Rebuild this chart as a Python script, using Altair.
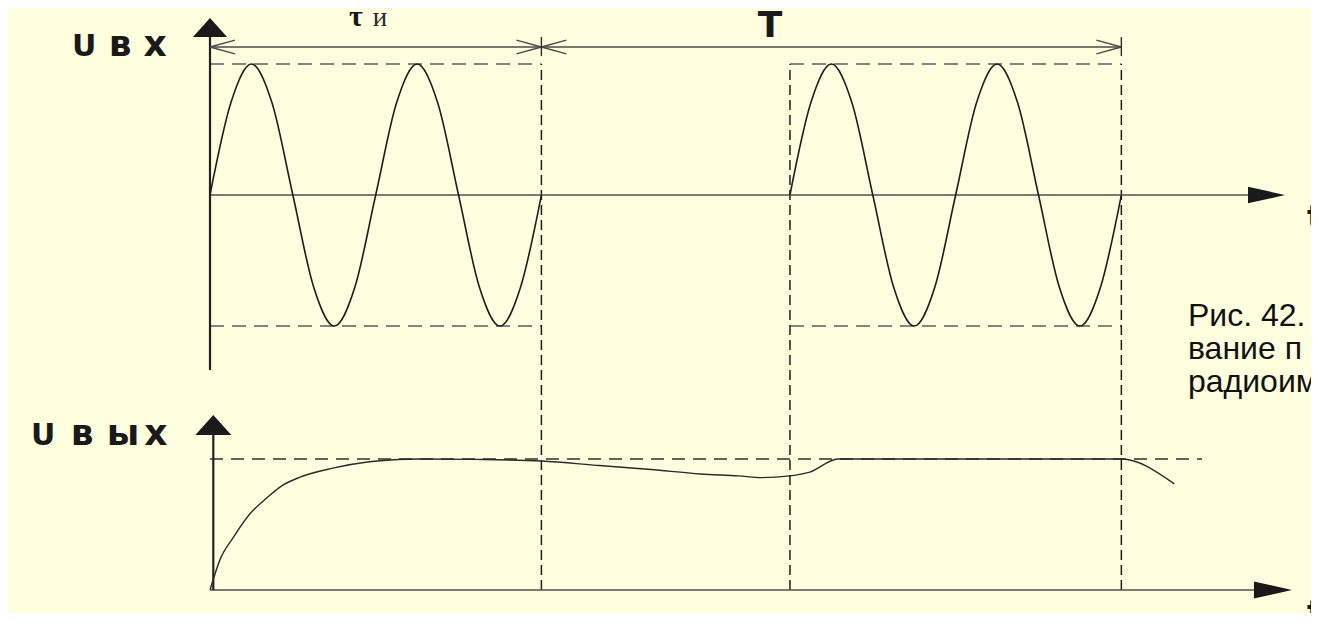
import altair as alt
import pandas as pd

# ---------------- data (time in carrier periods, voltage normalised) ----------------
TAU = 2.0      # pulse duration  τи
T_REP = 3.5    # repetition period T

# one radio pulse of the input signal (two carrier periods)
burst_t = [0, 0.125, 0.25, 0.375, 0.5, 0.625, 0.75, 0.875, 1.0,
           1.125, 1.25, 1.375, 1.5, 1.625, 1.75, 1.875, 2.0]
burst_u = [0, 0.70, 1.0, 0.70, 0, -0.70, -1.0, -0.70, 0,
           0.70, 1.0, 0.70, 0, -0.70, -1.0, -0.70, 0]

# detector output
out_t = [0, 0.06, 0.14, 0.24, 0.34, 0.44, 0.54, 0.74, 0.95, 1.09, 1.27, 1.6,
         2.0, 2.35, 2.66, 2.96, 3.19, 3.33, 3.5, 3.62, 3.79, 5.5, 5.82]
out_u = [0, 0.23, 0.40, 0.58, 0.70, 0.80, 0.86, 0.93, 0.977, 0.992, 1.0, 0.997,
         0.985, 0.95, 0.92, 0.886, 0.871, 0.858, 0.871, 0.90, 1.0, 1.0, 0.81]

caption_lines = ["Рис. 42.", "вание п", "радиоим"]
label_in = ["U", "в", "х"]
label_out = ["U", "в", "ы", "х"]
label_tau = ["τ", "и"]
label_T = "T"
label_time = "t"

# ---------------- layout constants ----------------
W, H = 1303, 605
X0, PX_T = 202.0, 165.7      # chart px of t=0, px per time unit
Y0, PX_U = 582.0, 131.0      # chart px of lower zero line, px per volt unit
TOP = 3.015                  # vertical offset of the upper (input) diagram
DIM = 4.145                  # level of the dimension line
x_dom = [(0 - X0) / PX_T, (W - X0) / PX_T]
y_dom = [(Y0 - H) / PX_U, Y0 / PX_U]
xs = alt.Scale(domain=x_dom, range=[0, W], nice=False, zero=False)
ys = alt.Scale(domain=y_dom, range=[H, 0], nice=False, zero=False)

def X(f="x"):
    return alt.X(f + ":Q", scale=xs, axis=None)

def Y(f="y"):
    return alt.Y(f + ":Q", scale=ys, axis=None)

def rules(rows, color, width, dash=None):
    kw = dict(color=color, strokeWidth=width)
    if dash:
        kw["strokeDash"] = dash
    return alt.Chart(pd.DataFrame(rows, columns=["x", "y", "x2", "y2"])).mark_rule(**kw).encode(
        x=X(), y=Y(), x2="x2:Q", y2="y2:Q")

# input signal (two pulses)
sig_rows = []
for k, start in enumerate([0.0, T_REP]):
    for t, u in zip(burst_t, burst_u):
        sig_rows.append({"x": start + t, "y": TOP + u, "burst": k})
sig = alt.Chart(pd.DataFrame(sig_rows)).mark_line(
    color="#1e1e1e", strokeWidth=1.6, interpolate="monotone").encode(
    x=X(), y=Y(), detail="burst:N")

out = alt.Chart(pd.DataFrame({"x": out_t, "y": out_u})).mark_line(
    color="#2a2a2a", strokeWidth=1.4, interpolate="monotone").encode(x=X(), y=Y())

# axes lines
axes_v = rules([[0, 1.679, 0, 4.221], [0.02, 0, 0.02, 1.183]], "#202020", 2.2)
axes_h = rules([[0, TOP, 6.264, TOP], [0, 0, 6.30, 0]], "#505050", 1.6)

# amplitude dashes
amp = []
for start in [0.0, T_REP]:
    amp.append([start, TOP + 1, start + TAU, TOP + 1])
    amp.append([start, TOP - 1, start + TAU, TOP - 1])
amp_d = rules(amp, "#858585", 2, [14, 8])
lvl_d = rules([[0, 1, 5.987, 1]], "#303030", 1.4, [13, 8])
vert_d = rules([[TAU, 0, TAU, TOP + 1], [T_REP, 0, T_REP, TOP + 1],
                [T_REP + TAU, 0, T_REP + TAU, TOP + 1]], "#1e1e1e", 1.5, [10, 5])

# dimension line with open arrow ends and ticks
AL, AH = 0.151, 0.053
dim_rows = [[0, DIM, T_REP + TAU, DIM]]
for xp, d in [(0, 1), (TAU, -1), (TAU, 1), (T_REP + TAU, -1)]:
    dim_rows.append([xp, DIM, xp + d * AL, DIM + AH])
    dim_rows.append([xp, DIM, xp + d * AL, DIM - AH])
dim = rules(dim_rows, "#4a4a4a", 1.4)
ticks = rules([[TAU, 4.221, TAU, 4.076], [T_REP + TAU, 4.221, T_REP + TAU, 4.076]], "#2a2a2a", 1.4)

# filled arrow heads of the axes
UP = "M0,-1L1.8,1L-1.8,1Z"
RIGHT = "M1,0L-1,-0.45L-1,0.45Z"
heads = pd.DataFrame([
    {"x": 0, "y": 4.294, "shape": UP, "size": 361},
    {"x": 0.02, "y": 1.26, "shape": UP, "size": 400},
    {"x": 6.376, "y": TOP, "shape": RIGHT, "size": 1369},
    {"x": 6.415, "y": 0, "shape": RIGHT, "size": 1444},
])
arrows = alt.Chart(heads).mark_point(filled=True, opacity=1, color="#1a1a1a", strokeWidth=0).encode(
    x=X(), y=Y(), shape=alt.Shape("shape:N", scale=None), size=alt.Size("size:Q", scale=None))

def texts(rows, **kw):
    return alt.Chart(pd.DataFrame(rows, columns=["x", "y", "text"])).mark_text(**kw).encode(
        x=X(), y=Y(), text="text:N")

# axis names, letter by letter (wide lettering of the original)
in_x = [-0.760, -0.543, -0.332]
out_x = [-1.006, -0.772, -0.525, -0.326]
U_rows = [[in_x[0], 4.076, label_in[0]], [out_x[0], 1.107, label_out[0]]]
lc_rows = [[x, 4.076, s] for x, s in zip(in_x[1:], label_in[1:])] + \
          [[x, 1.107, s] for x, s in zip(out_x[1:], label_out[1:])]
ylabU = texts(U_rows, align="center", baseline="alphabetic", font="DejaVu Sans", fontSize=30,
              fontWeight="bold", color="#1a1a1a")
ylab = texts(lc_rows, align="center", baseline="alphabetic", font="DejaVu Sans", fontSize=36,
             fontWeight="bold", color="#1a1a1a")
tau1 = texts([[0.880, 4.305, label_tau[0]]], align="center", baseline="alphabetic",
             font="Liberation Serif", fontSize=30, fontWeight="bold", color="#1a1a1a")
tau2 = texts([[1.026, 4.305, label_tau[1]]], align="center", baseline="alphabetic",
             font="Liberation Serif", fontSize=27, color="#2a2a2a")
T_t = texts([[3.38, 4.221, label_T]], align="center", baseline="alphabetic",
            font="DejaVu Sans", fontSize=36, fontWeight="bold", color="#1a1a1a")
t_t = texts([[6.62, 2.763, label_time], [6.62, -0.252, label_time]], align="left", baseline="alphabetic",
            font="DejaVu Sans", fontSize=32, fontWeight="bold", color="#1a1a1a")
cap = texts([[5.902, 2.015, caption_lines[0]], [5.902, 1.763, caption_lines[1]],
             [5.902, 1.511, caption_lines[2]]], align="left", baseline="alphabetic",
            font="Liberation Sans", fontSize=32, color="#111111")

chart = alt.layer(amp_d, lvl_d, vert_d, axes_h, axes_v, dim, ticks, sig, out, arrows,
                  ylabU, ylab, tau1, tau2, T_t, t_t, cap).properties(
    width=W, height=H, background="#ffffe0", padding=0,
    autosize=alt.AutoSizeParams(type="none")).configure_view(stroke=None)

chart.save("out.html", embed_options={"renderer": "svg", "actions": False})
